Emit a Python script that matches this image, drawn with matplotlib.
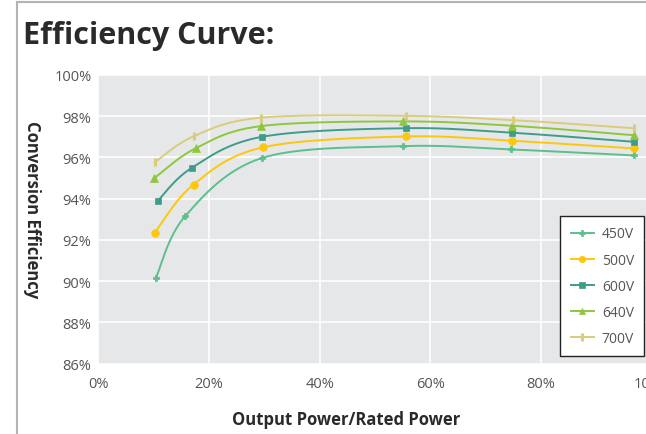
import numpy as np
import matplotlib
matplotlib.use('Agg')
import matplotlib.pyplot as plt
from matplotlib.lines import Line2D

plt.rcParams['font.family'] = ['Open Sans', 'DejaVu Sans']

# ── Data ─────────────────────────────────────────────────────────────
series_names = ['450V', '500V', '600V', '640V', '700V']
load_450 = [10.4, 15.7, 29.5, 55.0, 74.5, 96.7]
eff_450  = [90.16, 93.15, 95.96, 96.54, 96.38, 96.09]
load_500 = [10.2, 17.2, 29.7, 55.6, 74.7, 96.7]
eff_500  = [92.35, 94.68, 96.48, 97.01, 96.80, 96.43]
load_600 = [10.7, 16.9, 29.5, 55.5, 74.8, 96.8]
eff_600  = [93.88, 95.49, 96.99, 97.41, 97.19, 96.75]
load_640 = [10.1, 17.6, 29.3, 55.0, 74.7, 96.7]
eff_640  = [94.99, 96.44, 97.51, 97.74, 97.53, 97.07]
load_700 = [10.2, 17.3, 29.3, 55.6, 75.0, 96.7]
eff_700  = [95.76, 97.03, 97.92, 98.01, 97.80, 97.41]

x_ticks = [0, 20, 40, 60, 80, 100]
y_ticks = [86, 88, 90, 92, 94, 96, 98, 100]

# ── Styles ───────────────────────────────────────────────────────────
colors  = ['#5dbf8b', '#fdc70c', '#3e9c8b', '#8fc63f', '#d9cc7c']
markers = ['P', 'o', 's', '^', '|']
msizes  = [4.5, 5.5, 5.0, 5.5, 6.0]
BG      = '#e6e7e9'
TICK_C  = '#555555'
TEXT_C  = '#2a2a2a'

W, H = 646, 435
fig = plt.figure(figsize=(W / 100, H / 100), dpi=100, facecolor='white')

# axes placed in pixel terms; right side runs past the figure edge (cropped)
ax_l, ax_r, ax_t, ax_b = 98.4, 651.8, 75.8, 364.5
ax = fig.add_axes([ax_l / W, 1 - ax_b / H, (ax_r - ax_l) / W, (ax_b - ax_t) / H])
ax.set_facecolor(BG)
ax.set_xlim(0, 100)
ax.set_ylim(86, 100)
for s in ax.spines.values():
    s.set_visible(False)
ax.set_xticks(x_ticks)
ax.set_yticks(y_ticks)
ax.set_xticklabels([f'{t}%' for t in x_ticks])
ax.set_yticklabels([f'{t}%' for t in y_ticks])
ax.tick_params(length=0, labelsize=10.5, colors=TICK_C)
ax.tick_params(axis='x', pad=9)
ax.tick_params(axis='y', pad=5)
ax.grid(True, color='white', linewidth=1.2)
ax.set_axisbelow(True)

# px per data unit, used to smooth in screen space
sx = (ax_r - ax_l) / 100.0
sy = (ax_b - ax_t) / 14.0


def smooth(xs, ys, n=40):
    """Catmull-Rom style bezier through the points (like a spreadsheet 'smoothed line')."""
    P = np.column_stack([np.asarray(xs) * sx, np.asarray(ys) * sy])
    out = [P[0]]
    t = np.linspace(0, 1, n)[1:, None]
    for i in range(len(P) - 1):
        p0 = P[max(i - 1, 0)]
        p1, p2 = P[i], P[i + 1]
        p3 = P[min(i + 2, len(P) - 1)]
        c1 = p1 + (p2 - p0) / 6.0
        c2 = p2 - (p3 - p1) / 6.0
        seg = ((1 - t) ** 3) * p1 + 3 * ((1 - t) ** 2) * t * c1 \
            + 3 * (1 - t) * t ** 2 * c2 + t ** 3 * p2
        out.extend(seg)
    out = np.array(out)
    return out[:, 0] / sx, out[:, 1] / sy


all_x = [load_450, load_500, load_600, load_640, load_700]
all_y = [eff_450, eff_500, eff_600, eff_640, eff_700]

handles = []
for name, xs, ys, c, m, ms in zip(series_names, all_x, all_y, colors, markers, msizes):
    cx, cy = smooth(xs, ys)
    ax.plot(cx, cy, color=c, linewidth=1.4, zorder=3)
    mew = 2.2 if m == '|' else 0.5
    ax.plot(xs, ys, linestyle='none', marker=m, markersize=ms, color=c,
            markeredgecolor=c, markeredgewidth=mew, zorder=4)
    handles.append(Line2D([0], [0], color=c, linewidth=1.4, marker=m,
                          markersize=ms * 0.85, markeredgecolor=c,
                          markeredgewidth=mew))

leg = fig.legend(handles, series_names, loc='upper right',
                 bbox_to_anchor=(644.5 / W, 1 - 217 / H), borderaxespad=0,
                 fontsize=10, labelcolor=TICK_C, frameon=True, fancybox=False,
                 edgecolor='#222222', framealpha=1, handlelength=1.7,
                 handletextpad=0.55, labelspacing=0.8, borderpad=0.75)
leg.get_frame().set_linewidth(1.0)

# ── Text ─────────────────────────────────────────────────────────────
fig.text(23 / W, 1 - 44 / H, 'Efficiency Curve:', fontsize=22,
         fontweight='bold', color=TEXT_C, ha='left', va='baseline')
fig.text(346 / W, 1 - 420 / H, 'Output Power/Rated Power', fontsize=12,
         fontweight='bold', color=TEXT_C, ha='center', va='center')
fig.text(32 / W, 1 - 210 / H, 'Conversion Efficiency', fontsize=12,
         fontweight='bold', color=TEXT_C, ha='center', va='center',
         rotation=270)

# screenshot frame (left + top border)
fig.add_artist(Line2D([17 / W, 17 / W], [0, 1 - 3 / H], color='#b3b3b3',
                      linewidth=1.5, transform=fig.transFigure))
fig.add_artist(Line2D([17 / W, 1], [1 - 3 / H, 1 - 3 / H], color='#b3b3b3',
                      linewidth=1.5, transform=fig.transFigure))

fig.savefig('out.png', dpi=100, facecolor='white')
